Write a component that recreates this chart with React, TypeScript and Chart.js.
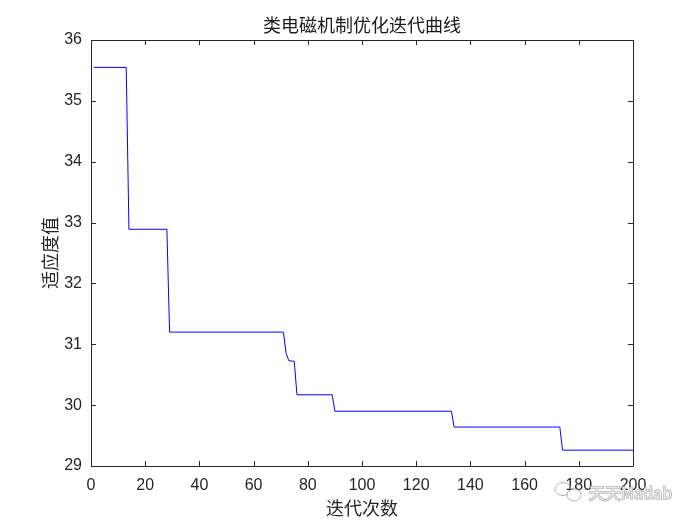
import React, { useEffect, useRef } from "react";
import { Chart, registerables } from "chart.js";

Chart.register(...registerables);

const titleText = "类电磁机制优化迭代曲线";
const xTitle = "迭代次数";
const yTitle = "适应度值";
const watermark = "天天Matlab";

// iteration numbers where the curve changes, and the fitness there
const iterations = [1, 13, 14, 28, 29, 71, 72, 73, 75, 76, 89, 90, 133, 134, 173, 174, 200];
const fitness = [35.55, 35.55, 32.89, 32.89, 31.2, 31.2, 30.85, 30.73, 30.72, 30.17, 30.17, 29.9, 29.9, 29.64, 29.64, 29.26, 29.26];

const xTicks = [0, 20, 40, 60, 80, 100, 120, 140, 160, 180, 200];
const yTicks = [29, 30, 31, 32, 33, 34, 35, 36];

const AXIS_COLOR = "#262626";
const CJK = "'Noto Sans CJK SC', 'Noto Sans', sans-serif";
const NUM = "'Liberation Sans', Arial, sans-serif";

const boxPlugin = {
  id: "matlabBox",
  afterDraw(chart: any) {
    const { ctx, chartArea } = chart;
    const { left, right, top, bottom } = chartArea;
    const xs = chart.scales.x;
    const ys = chart.scales.y;
    ctx.save();
    ctx.strokeStyle = AXIS_COLOR;
    ctx.lineWidth = 1;
    ctx.beginPath();
    ctx.rect(Math.round(left) + 0.5, Math.round(top) + 0.5, Math.round(right - left), Math.round(bottom - top));
    ctx.stroke();
    const tl = 5;
    ctx.beginPath();
    xTicks.forEach((v) => {
      const px = Math.round(xs.getPixelForValue(v)) + 0.5;
      ctx.moveTo(px, bottom);
      ctx.lineTo(px, bottom - tl);
      ctx.moveTo(px, top);
      ctx.lineTo(px, top + tl);
    });
    yTicks.forEach((v) => {
      const py = Math.round(ys.getPixelForValue(v)) + 0.5;
      ctx.moveTo(left, py);
      ctx.lineTo(left + tl, py);
      ctx.moveTo(right, py);
      ctx.lineTo(right - tl, py);
    });
    ctx.stroke();

    // title, centred over the plot box
    ctx.fillStyle = "#1a1a1a";
    ctx.font = `18px ${CJK}`;
    ctx.textAlign = "center";
    ctx.textBaseline = "middle";
    ctx.fillText(titleText, (left + right) / 2, 25);

    // watermark
    ctx.globalAlpha = 0.75;
    ctx.strokeStyle = "#9a9a9a";
    ctx.lineWidth = 1;
    ctx.beginPath();
    ctx.ellipse(563, 489, 8, 6.5, 0, 0, Math.PI * 2);
    ctx.stroke();
    ctx.fillStyle = "#ffffff";
    ctx.beginPath();
    ctx.ellipse(574, 495, 7, 6, 0, 0, Math.PI * 2);
    ctx.fill();
    ctx.stroke();
    ctx.font = `16px ${CJK}`;
    ctx.textBaseline = "middle";
    ctx.textAlign = "left";
    ctx.lineWidth = 1.5;
    ctx.strokeText(watermark, 589, 493);
    ctx.fillStyle = "#ffffff";
    ctx.fillText(watermark, 589, 493);
    ctx.restore();
  },
};

export default function App() {
  const ref = useRef<HTMLCanvasElement | null>(null);

  useEffect(() => {
    if (!ref.current) return;
    const points = iterations.map((it, i) => ({ x: it, y: fitness[i] }));
    const chart = new Chart(ref.current, {
      type: "line",
      data: {
        datasets: [
          {
            data: points,
            borderColor: "#0000ff",
            borderWidth: 1,
            pointRadius: 0,
            fill: false,
            tension: 0,
          },
        ],
      },
      options: {
        animation: false,
        responsive: false,
        layout: { padding: { left: 0, right: 67, top: 40, bottom: 0 } },
        plugins: {
          legend: { display: false },
          tooltip: { enabled: false },
          title: { display: false },
        },
        scales: {
          x: {
            type: "linear",
            min: 0,
            max: 200,
            afterFit: (s: any) => {
              s.height = 59;
            },
            afterBuildTicks: (s: any) => {
              s.ticks = xTicks.map((v) => ({ value: v }));
            },
            grid: { display: false, drawTicks: false },
            border: { display: false },
            ticks: {
              color: AXIS_COLOR,
              font: { family: NUM, size: 16 },
              padding: 10,
              maxRotation: 0,
              autoSkip: false,
            },
            title: {
              display: true,
              text: xTitle,
              color: AXIS_COLOR,
              font: { family: CJK, size: 18, lineHeight: 1.2 },
              padding: { top: 0, bottom: 6.2 },
            },
          },
          y: {
            type: "linear",
            min: 29,
            max: 36,
            afterFit: (s: any) => {
              s.width = 91;
            },
            afterBuildTicks: (s: any) => {
              s.ticks = yTicks.map((v) => ({ value: v }));
            },
            grid: { display: false, drawTicks: false },
            border: { display: false },
            ticks: {
              color: AXIS_COLOR,
              font: { family: NUM, size: 16 },
              padding: 9,
              autoSkip: false,
            },
            title: {
              display: true,
              text: yTitle,
              color: AXIS_COLOR,
              font: { family: CJK, size: 18, lineHeight: 1.2 },
              padding: { top: 39.2, bottom: 0 },
            },
          },
        },
      },
      plugins: [boxPlugin],
    });
    return () => chart.destroy();
  }, []);

  return (
    <div style={{ position: "absolute", left: 0, top: 0, width: 700, height: 525, background: "#ffffff" }}>
      <canvas ref={ref} width={700} height={525} style={{ display: "block" }} />
    </div>
  );
}
